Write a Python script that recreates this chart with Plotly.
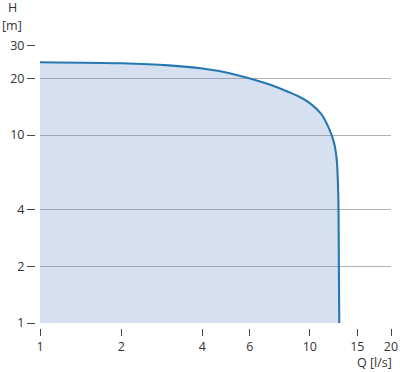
import plotly.graph_objects as go

# Pump curve data (Q in l/s, H in m)
Q = [1, 2, 3, 4, 5, 6, 7, 8, 9, 10, 11, 11.8, 12.3, 12.6, 12.72, 12.78, 12.82, 12.86]
H = [24.4, 24.1, 23.5, 22.6, 21.4, 20.0, 18.7, 17.4, 16.2, 14.8, 13.0, 10.8, 9.1, 7.3, 5.5, 4.0, 2.0, 1.0]

x_ticks = [1, 2, 4, 6, 10, 15, 20]
y_ticks = [1, 2, 4, 10, 20, 30]

line_color = "rgb(38,120,176)"
fill_color = "rgba(110,145,200,0.28)"
font = dict(family="Open Sans, sans-serif", size=12.5, color="#333333")

fig = go.Figure()
# baseline for the filled area (bottom of the axis)
fig.add_trace(go.Scatter(
    x=[Q[0], Q[-1]], y=[H[-1], H[-1]], mode="lines",
    line=dict(width=0), hoverinfo="skip", showlegend=False,
))
# curve line with fill down to the baseline
fig.add_trace(go.Scatter(
    x=Q, y=H, mode="lines", fill="tonexty", fillcolor=fill_color,
    line=dict(color=line_color, width=2.1, shape="spline", smoothing=0.6),
    showlegend=False,
))

W, Ht = 400, 372
ml, mr, mt, mb = 30, 9, 45, 39
pw = W - ml - mr
ph = Ht - mt - mb

fig.update_layout(
    width=W, height=Ht,
    margin=dict(l=ml, r=mr, t=mt, b=mb, autoexpand=False),
    paper_bgcolor="white", plot_bgcolor="white",
    font=font,
    xaxis=dict(
        type="log", range=[0, 1.30103],
        domain=[10 / pw, 1],
        anchor="free", position=5 / ph,
        tickvals=x_ticks, ticktext=[str(v) for v in x_ticks],
        ticks="outside", ticklen=7, tickwidth=1, tickcolor="#444",
        showgrid=False, showline=False, zeroline=False,
        tickfont=font, automargin=False,
    ),
    yaxis=dict(
        type="log", range=[0, 1.4795],
        domain=[10 / ph, 1],
        anchor="free", position=5 / pw,
        tickvals=y_ticks, ticktext=[str(v) for v in y_ticks],
        ticks="outside", ticklen=8, tickwidth=1.2, tickcolor="#444",
        showgrid=True, gridcolor="#b0b0b0", gridwidth=1,
        showline=False, zeroline=False,
        tickfont=font, automargin=False,
    ),
    annotations=[
        dict(text="H", x=12, y=Ht - 8, xref="paper", yref="paper", showarrow=False),
        dict(text="[m]", x=12, y=Ht - 25, xref="paper", yref="paper", showarrow=False),
        dict(text="Q [l/s]", x=374, y=Ht - 362, xref="paper", yref="paper", showarrow=False),
    ],
)

# convert annotation pixel positions into paper coordinates
for a in fig.layout.annotations:
    a.x = (a.x - ml) / pw
    a.y = (a.y - mb) / ph
    a.xanchor = "center"
    a.yanchor = "middle"
    a.font = font

fig.write_html("out.html")
